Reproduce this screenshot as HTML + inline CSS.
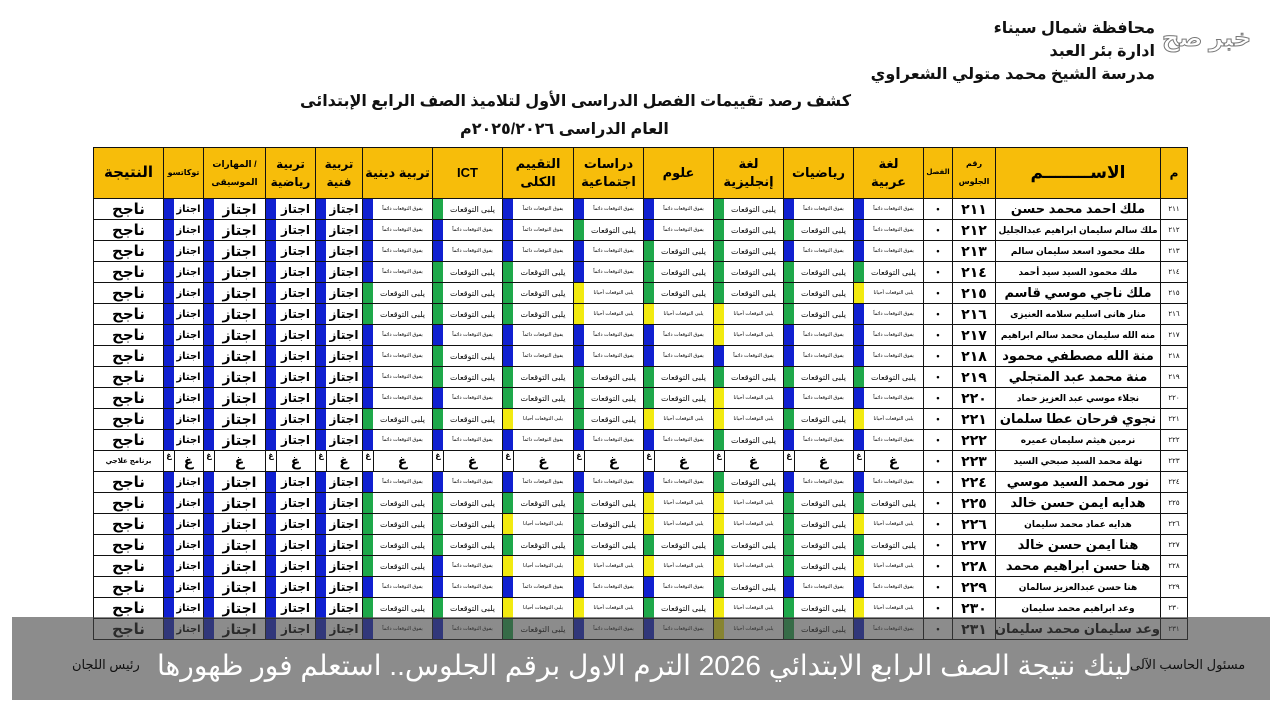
<!DOCTYPE html>
<html><head><meta charset="utf-8">
<style>
body{margin:0;width:1280px;height:720px;background:#fff;position:relative;overflow:hidden;font-family:"Liberation Sans","Noto Sans CJK SC","DejaVu Sans",sans-serif;}
.t{position:absolute;font-weight:bold;color:#111;white-space:nowrap;}
table{position:absolute;left:93px;top:147px;border-collapse:collapse;table-layout:fixed;width:1094px;}
td{border:1.5px solid #111;padding:0;text-align:center;height:20px;font-weight:bold;font-size:12px;white-space:nowrap;overflow:hidden;position:relative;}
th{border:1.5px solid #111;background:#f7bd0a;height:50px;font-size:13px;font-weight:bold;padding:0;line-height:18px;}
.s{position:absolute;left:0;top:0;bottom:0;width:10px;}
.B{background:#1020d0}.G{background:#1ea84a}.Y{background:#f2ea10}
.tx{display:block;margin-left:10px;direction:rtl}
.sm{font-size:5px;font-weight:normal}
.md{font-size:8px;font-weight:normal}
.bar{position:absolute;left:12px;top:617px;width:1258px;height:83px;background:rgba(70,70,70,0.62);}
</style></head><body>
<div class="t" style="right:125px;top:18px;font-size:16px;direction:rtl">محافظة شمال سيناء</div>
<div class="t" style="right:125px;top:41px;font-size:16px;direction:rtl">ادارة بئر العبد</div>
<div class="t" style="right:125px;top:64px;font-size:16px;direction:rtl">مدرسة الشيخ محمد متولي الشعراوي</div>
<div class="t" style="left:1162px;top:24px;font-size:24px;color:#fff;-webkit-text-stroke:1px #777;direction:rtl">خبر صح</div>
<div class="t" style="left:300px;top:91px;font-size:16px;direction:rtl">كشف رصد تقييمات الفصل الدراسى الأول لتلاميذ الصف الرابع الإبتدائى</div>
<div class="t" style="left:460px;top:119px;font-size:16px;direction:rtl">العام الدراسى ٢٠٢٥/٢٠٢٦م</div>
<table id="tb">
<colgroup><col style="width:70px"><col style="width:40px"><col style="width:62px"><col style="width:50px"><col style="width:47px"><col style="width:70px"><col style="width:70px"><col style="width:71px"><col style="width:70px"><col style="width:70px"><col style="width:70px"><col style="width:70px"><col style="width:70px"><col style="width:29px"><col style="width:43px"><col style="width:165px"><col style="width:27px"></colgroup>
<tr><th style="font-size:15px">النتيجة</th><th style="font-size:8px">توكاتسو</th><th style="font-size:9px">المهارات /<br>الموسيقى</th><th style="font-size:12px">تربية<br>رياضية</th><th style="font-size:12px">تربية<br>فنية</th><th>تربية دينية</th><th>ICT</th><th>التقييم<br>الكلى</th><th>دراسات<br>اجتماعية</th><th>علوم</th><th>لغة<br>إنجليزية</th><th>رياضيات</th><th>لغة<br>عربية</th><th style="font-size:7px">الفصل</th><th style="font-size:8px">رقم<br>الجلوس</th><th style="font-size:17px">الاســــــــم</th><th style="font-size:12px">م</th></tr>
</table>
<div class="bar"></div>
<div class="t" style="left:157px;top:649px;font-size:28px;color:#fff;font-weight:normal;direction:rtl">لينك نتيجة الصف الرابع الابتدائي 2026 الترم الاول برقم الجلوس.. استعلم فور ظهورها</div>
<div class="t" style="left:1130px;top:657px;font-size:13px;font-weight:normal;direction:rtl">مسئول الحاسب الآلى</div>
<div class="t" style="left:72px;top:657px;font-size:13px;font-weight:normal;direction:rtl">رئيس اللجان</div>
<script>
var names=["ملك احمد محمد حسن","ملك سالم سليمان ابراهيم عبدالجليل","ملك محمود اسعد سليمان سالم","ملك محمود السيد سيد أحمد","ملك ناجي موسي قاسم","منار هانى اسليم سلامه العنيزى","منه الله سليمان محمد سالم ابراهيم","منة الله مصطفي محمود","منة محمد عبد المتجلي","نجلاء موسي عبد العزيز حماد","نجوي فرحان عطا سلمان","نرمين هيثم سليمان عميره","نهلة محمد السيد صبحي السيد","نور محمد السيد موسي","هدايه ايمن حسن خالد","هدايه عماد محمد سليمان","هنا ايمن حسن خالد","هنا حسن ابراهيم محمد","هنا حسن عبدالعزيز سالمان","وعد ابراهيم محمد سليمان","وعد سليمان محمد سليمان"];
var big=[1,0,0,0,1,0,0,1,1,0,1,0,0,1,1,0,1,1,0,0,1];
var cols=["BGBBBGBB","BBBGBGGB","BBBBGGBB","BGGBGGGG","GGGYGGGY","GGGYYYGB","BBBBBYBB","BGBBBBBB","BGGGGGGG","BBGGGYBB","GGYGYYGY","BBBBBGBB","","BBBBBGBB","GGGGYYGG","GGYGYYGY","GGGGGGGG","GBYYYYGY","BBBBBGBB","GGYYGYGY","BBGBBYGB"];
var ar=["٠","١","٢","٣","٤","٥","٦","٧","٨","٩"];
function a(n){return String(n).split("").map(function(d){return ar[d]}).join("");}
var tb=document.getElementById("tb"),h="";
for(var i=0;i<21;i++){
 var g=i==12,n=211+i,r="<tr>";
 r+='<td style="font-size:'+(g?'7px':'15px')+'">'+(g?'برنامج علاجي':'ناجح')+'</td>';
 for(var k=0;k<4;k++){r+='<td><div class="s B" style="'+(g?'background:#fff;border-right:1px solid #111;font-size:8px':'')+'">'+(g?'غ':'')+'</div><span class="tx" style="font-size:'+(g?'14px':(k==1?'14px':(k==0?'10px':'12px')))+'">'+(g?'غ':'اجتاز')+'</span></td>';}
 for(var k=0;k<8;k++){
  if(g){r+='<td><div class="s" style="border-right:1px solid #111;font-size:8px">غ</div><span class="tx" style="font-size:14px">غ</span></td>';continue;}
  var c=cols[i][k];
  var t=c=="B"?'<span class="tx sm">يفوق التوقعات دائماً</span>':c=="G"?'<span class="tx md">يلبى التوقعات</span>':'<span class="tx sm">يلبى التوقعات أحيانا</span>';
  r+='<td><div class="s '+c+'"></div>'+t+'</td>';
 }
 r+='<td style="font-size:9px">•</td><td style="font-size:14px;letter-spacing:3px">'+a(n)+'</td>';
 r+='<td style="font-size:'+(big[i]?'13px':'9px')+';direction:rtl">'+names[i]+'</td><td style="font-size:7px;font-weight:normal">'+a(n)+'</td></tr>';
 h+=r;
}
tb.insertAdjacentHTML("beforeend",h);
</script>
</body></html>
